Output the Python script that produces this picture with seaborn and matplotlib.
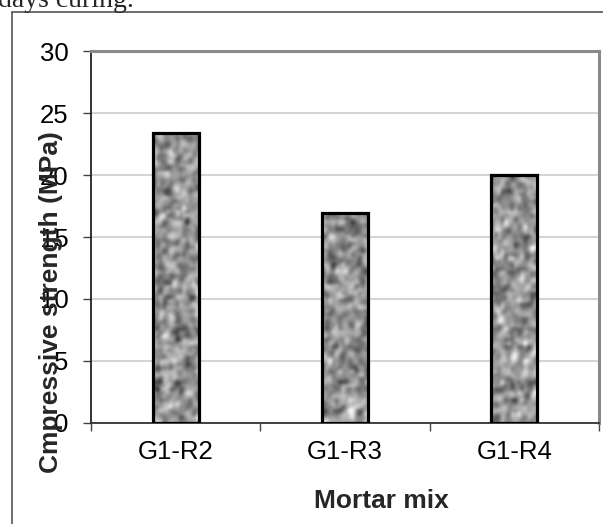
import numpy as np
import pandas as pd
import matplotlib
matplotlib.use("Agg")
import matplotlib.pyplot as plt
import seaborn as sns

# Data
mixes = ["G1-R2", "G1-R3", "G1-R4"]
strength = [23.4, 16.9, 20.0]
yticks = [0, 5, 10, 15, 20, 25, 30]

df = pd.DataFrame({"mix": mixes, "strength": strength})

sns.set_style("white")
plt.rcParams["font.family"] = ["Liberation Sans", "DejaVu Sans"]

W, H = 603, 524
fig = plt.figure(figsize=(W / 100, H / 100), dpi=100)
ax = fig.add_axes([91 / W, 1 - 423 / H, (599 - 91) / W, (423 - 51) / H])

sns.barplot(data=df, x="mix", y="strength", ax=ax, width=0.27,
            color="#bdbdbd", edgecolor="black", linewidth=2.3, saturation=1,
            zorder=3)

ax.set_ylim(0, 30)
ax.set_xlim(-0.5, len(mixes) - 0.5)
ax.set_yticks(yticks)
ax.set_yticklabels([str(t) for t in yticks])
ax.yaxis.grid(True, color="#d4d4d4", linewidth=1.5, zorder=0)
ax.set_axisbelow(True)

# mottled texture inside bars (visual fill only)
rng = np.random.default_rng(11)
for p in ax.patches:
    rows = max(int(p.get_height() / 30 * 372 / 3.5), 2)
    tex = rng.normal(size=(rows, 14))
    tex = (2 * tex + np.roll(tex, 1, 0) + np.roll(tex, 1, 1)) / 4
    im = ax.imshow(tex, cmap="gray", vmin=-2.3, vmax=1.7, interpolation="bicubic",
                   extent=[p.get_x(), p.get_x() + p.get_width(), 0, p.get_height()],
                   aspect="auto", zorder=3.5)
    im.set_clip_path(p)
    p.set_facecolor("none")
    p.set_zorder(4)
ax.set_xlim(-0.5, len(mixes) - 0.5)
ax.set_ylim(0, 30)

# spines
for s in ["top", "right"]:
    ax.spines[s].set_visible(True)
    ax.spines[s].set_color("#8a8a8a")
    ax.spines[s].set_linewidth(2.2)
ax.spines["left"].set_color("#222222")
ax.spines["left"].set_linewidth(1.3)
ax.spines["bottom"].set_color("#333333")
ax.spines["bottom"].set_linewidth(1.3)

ax.set_xticks(range(len(mixes)))
ax.set_xticklabels(mixes)
ax.set_xticks([-0.5, 0.5, 1.5, 2.5], minor=True)
ax.tick_params(axis="x", which="major", length=0, pad=12, labelsize=18.5, colors="black")
ax.tick_params(axis="x", which="minor", bottom=True, length=6, width=1, color="#444444", direction="out")
ax.tick_params(axis="y", left=True, length=6, width=1, color="#444444", direction="out",
               pad=10, labelsize=18.5, labelcolor="black")
ax.set_xlabel("")
ax.set_ylabel("")

fig.text(381 / W, 1 - 501 / H, "Mortar mix", ha="center", va="center",
         fontsize=19, fontweight="bold")
fig.text(51 / W, 1 - 302 / H, "Cmpressive strength (MPa)", ha="center", va="center",
         rotation=90, fontsize=19, fontweight="bold")

# outer frame lines
fig.add_artist(plt.Line2D([11.5 / W, 1.0], [1 - 11.5 / H, 1 - 11.5 / H], color="#555555", lw=1.2,
                          transform=fig.transFigure))
fig.add_artist(plt.Line2D([11.5 / W, 11.5 / W], [0, 1 - 11.5 / H], color="#555555", lw=1.2,
                          transform=fig.transFigure))

fig.text(-2 / W, 1 - 7 / H, "days curing.", ha="left", va="baseline", fontsize=20,
         family=["Liberation Serif", "DejaVu Serif"])

fig.savefig("out.png", dpi=100)
